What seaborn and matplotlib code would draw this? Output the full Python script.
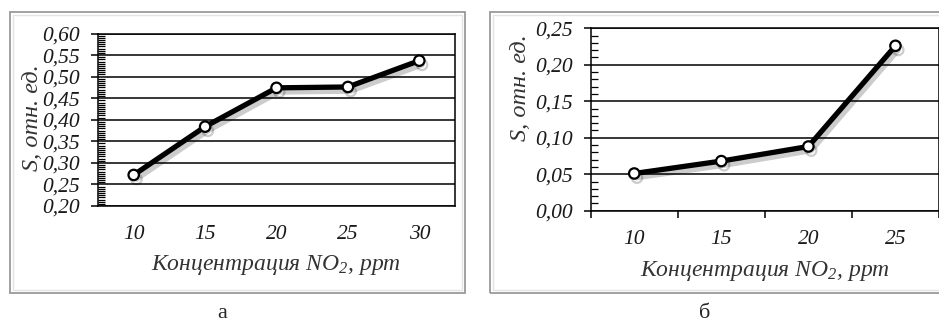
import matplotlib
matplotlib.use("Agg")
import matplotlib.pyplot as plt
import matplotlib.patheffects as pe
from matplotlib.patches import Rectangle
from matplotlib.ticker import MultipleLocator, FixedLocator
import seaborn as sns
import pandas as pd
import numpy as np

sns.set_theme(style="white")
plt.rcParams['font.family'] = ['Liberation Serif', 'DejaVu Serif']
plt.rcParams['mathtext.fontset'] = 'custom'
plt.rcParams['mathtext.it'] = 'Liberation Serif:italic'
plt.rcParams['mathtext.rm'] = 'Liberation Serif:italic'

# Panel a
conc_a = ["10", "15", "20", "25", "30"]
s_a = [0.272, 0.384, 0.474, 0.476, 0.537]
# Panel b
conc_b = ["10", "15", "20", "25"]
s_b = [0.051, 0.068, 0.088, 0.226]

xlabel_txt = "Концентрация NO$_2$, ppm"
ylabel_txt = "S, отн. ед."
panel_labels = ["а", "б"]

W, H = 939, 322
fig = plt.figure(figsize=(W / 100, H / 100), dpi=100)

def fx(px):
    return px / W

def fy(py):
    return 1 - py / H

# frames
def frame(x0, y0, x1, y1):
    fig.patches.append(Rectangle((fx(x0), fy(y1)), fx(x1 - x0), (y1 - y0) / H,
                                 transform=fig.transFigure, fill=False,
                                 edgecolor="#9a9a9a", linewidth=1.3))
    fig.patches.append(Rectangle((fx(x0 + 3), fy(y1 - 3)), fx(x1 - x0 - 6), (y1 - y0 - 6) / H,
                                 transform=fig.transFigure, fill=False,
                                 edgecolor="#e3e3e3", linewidth=1.0))

frame(9.5, 12, 465, 293)
frame(490, 12, 960, 293)

ax_a = fig.add_axes([fx(98), fy(206), fx(455 - 98), (206 - 33.5) / H])
ax_b = fig.add_axes([fx(590.7), fy(210.7), fx(939 - 590.7), (210.7 - 28.3) / H])

tick_font = dict(family='Liberation Serif', style='italic', size=15.5)

def draw(ax, cats, vals, ylim, ystep, yminor, xticks_on):
    df = pd.DataFrame({"c": cats, "s": vals})
    sns.pointplot(data=df, x="c", y="s", ax=ax, color="black", markers="o",
                  linestyles="-", errorbar=None)
    for ln in ax.lines:
        ln.set_linewidth(3.8)
        ln.set_markersize(7.5)
        ln.set_markerfacecolor("white")
        ln.set_markeredgecolor("black")
        ln.set_markeredgewidth(1.6)
        ln.set_path_effects([pe.SimpleLineShadow(offset=(2, -3), shadow_color="black", alpha=0.2, rho=1),
                             pe.Normal()])
    for c in ax.collections:
        c.set_facecolor("white")
        c.set_edgecolor("black")
        c.set_linewidth(1.6)
        c.set_sizes([55])
        c.set_zorder(4)
    n = len(cats)
    yt = np.round(np.arange(ylim[0], ylim[1] + 1e-9, ystep), 2)
    ax.set_yticks(yt)
    ax.set_yticklabels([f"{t:.2f}".replace(".", ",") for t in yt], fontdict=tick_font, color="#1a1a1a")
    ax.yaxis.set_minor_locator(MultipleLocator(yminor))
    ax.set_xticks(range(n))
    ax.set_xticklabels(cats, fontdict=tick_font, color="#1a1a1a")
    ax.set_xlim(-0.5, n - 0.5)
    ax.set_ylim(*ylim)
    ax.grid(False)
    ax.grid(axis="y", which="major", color="black", linewidth=1.1)
    ax.set_axisbelow(True)
    for sp in ax.spines.values():
        sp.set_visible(True)
        sp.set_color("black")
        sp.set_linewidth(1.1)
    ax.tick_params(axis="y", which="major", direction="out", length=5, width=1.1, color="black", pad=8, left=True)
    ax.tick_params(axis="y", which="minor", direction="in", length=5, width=0.9, color="black", left=True)
    ax.tick_params(axis="x", which="major", length=0, pad=14, bottom=True)
    if xticks_on:
        ax.xaxis.set_minor_locator(FixedLocator([i - 0.5 for i in range(n + 1)]))
        ax.tick_params(axis="x", which="minor", direction="out", length=5, width=1.1, color="black", bottom=True)
    ax.set_xlabel(xlabel_txt, fontsize=17, fontstyle="italic", color="#333333")
    ax.set_ylabel(ylabel_txt, fontsize=17.5, fontstyle="italic", color="#333333")

draw(ax_a, conc_a, s_a, (0.20, 0.60), 0.05, 0.005, False)
draw(ax_b, conc_b, s_b, (0.0, 0.25), 0.05, 0.01, True)

# label positions (pixel based)
ax_a.xaxis.set_label_coords(0.5, -(265 - 206) / 172.5)
ax_a.yaxis.set_label_coords(-(98 - 32) / 357, 0.51)
ax_b.xaxis.set_label_coords(0.5, -(271 - 210.7) / 182.4)
ax_b.yaxis.set_label_coords(-(590.7 - 520) / 348.3, (210.7 - 88) / 182.4)
for a in (ax_a, ax_b):
    a.xaxis.label.set_va("center")
    a.yaxis.label.set_va("center")

fig.text(fx(222), fy(313), panel_labels[0], ha="center", va="center", fontsize=16, family="Liberation Serif")
fig.text(fx(705), fy(313), panel_labels[1], ha="center", va="center", fontsize=16, family="Liberation Serif")

fig.savefig("out.png", dpi=100)
